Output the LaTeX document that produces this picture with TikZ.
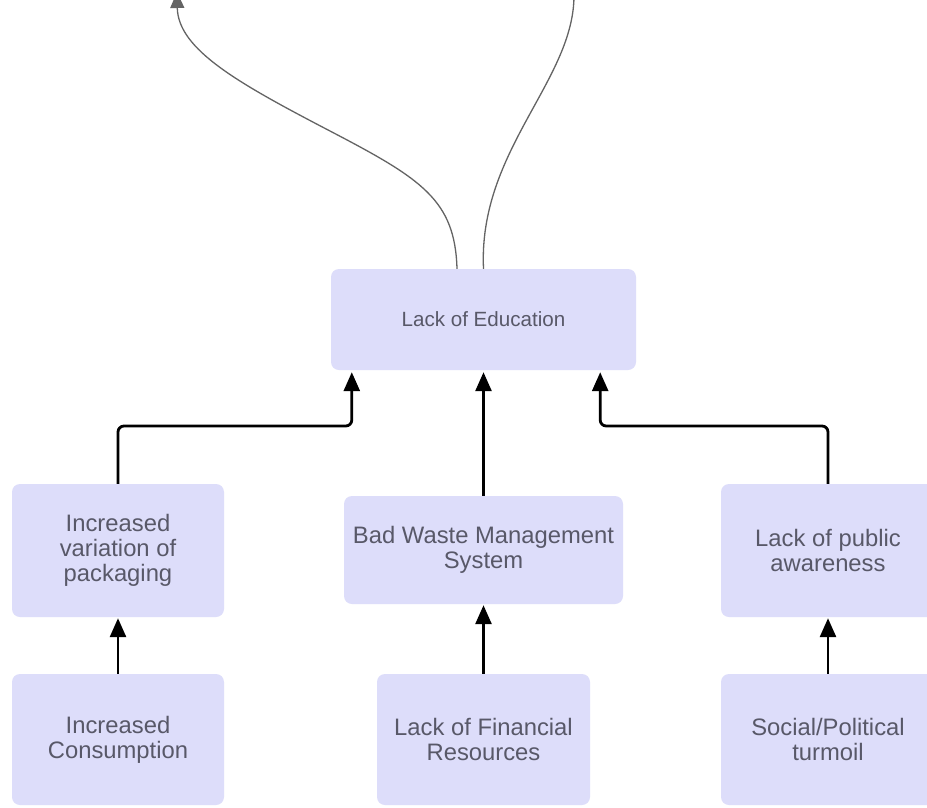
\documentclass[tikz,border=0pt]{standalone}
\usepackage{fontspec}
\setmainfont{Liberation Sans}
\usetikzlibrary{arrows.meta}
\definecolor{boxfill}{RGB}{221,221,250}
\definecolor{boxtext}{RGB}{88,88,104}
\definecolor{curvec}{RGB}{100,100,100}
\tikzset{
  cause/.style={rectangle, rounded corners=8pt, fill=boxfill, draw=none,
    text=boxtext, align=center, inner sep=0pt,
    font=\fontsize{23.8}{25}\selectfont},
  blk/.style={draw=black, line width=2.8pt, rounded corners=6pt,
    -{Triangle[length=19pt,width=16pt]}},
  blkplain/.style={draw=black, line width=2.8pt,
    -{Triangle[length=19pt,width=16pt]}},
  grayc/.style={draw=curvec, line width=1.3pt},
  graycarrow/.style={draw=curvec, line width=1.3pt,
    -{Triangle[length=16pt,width=14pt]}}
}
\begin{document}
\begin{tikzpicture}[x=1pt,y=-1pt]
\useasboundingbox (0,0) rectangle (927,807);
\clip (0,0) rectangle (927,807);
\fill[white] (0,0) rectangle (927,807);

\node[cause, minimum width=305pt, minimum height=101pt,
  font=\fontsize{20.6}{22}\selectfont] (edu) at (483.5,319.5) {Lack of Education};

\node[cause, minimum width=212pt, minimum height=133pt] (pack) at (118,550.5)
  {Increased\\variation of\\packaging};
\node[cause, minimum width=212pt, minimum height=131pt] (cons) at (118,739.5)
  {Increased\\Consumption};

\node[cause, minimum width=279pt, minimum height=108pt] (bws) at (483.5,550)
  {Bad Waste Management\\System};
\node[cause, minimum width=213pt, minimum height=131pt] (fin) at (483.5,739.5)
  {Lack of Financial\\Resources};

\node[cause, minimum width=214pt, minimum height=133pt] (pub) at (828,550.5)
  {Lack of public\\awareness};
\node[cause, minimum width=214pt, minimum height=131pt] (soc) at (828,739.5)
  {Social/Political\\turmoil};

% helper coordinates
\coordinate (midy) at (0,426);
\coordinate (eduL) at ([xshift=21pt,yshift=-2pt]edu.south west);
\coordinate (eduM) at ([yshift=-2pt]edu.south);
\coordinate (eduR) at ([xshift=-36pt,yshift=-2pt]edu.south east);

% black arrows
\draw[blk] (pack.north) |- (eduL |- midy) -- (eduL);
\draw[blkplain] (bws.north) -- (eduM);
\draw[blk] (pub.north) |- (eduR |- midy) -- (eduR);

\draw[blkplain] (cons.north) -- ([yshift=-1pt]pack.south);
\draw[blkplain] (fin.north) -- ([yshift=-1pt]bws.south);
\draw[blkplain] (soc.north) -- ([yshift=-1pt]pub.south);

% gray curves leaving the top
\coordinate (topL) at (177,-8);
\coordinate (topR) at (574,-6);
\draw[graycarrow] ([xshift=-26.5pt]edu.north) .. controls (455,200) and (422,179) .. (330,131)
  .. controls (240,84) and (178,50) .. (topL);
\draw[grayc] (edu.north) .. controls (478,150) and (575,80) .. (topR);
\end{tikzpicture}
\end{document}
